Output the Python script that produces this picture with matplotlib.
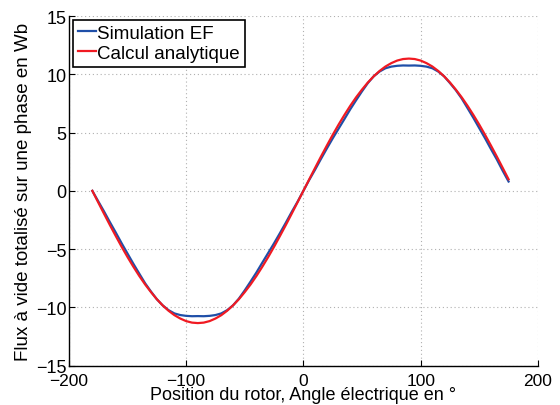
import matplotlib
matplotlib.use("Agg")
import matplotlib.pyplot as plt
import numpy as np

plt.rcParams['font.family'] = ['Liberation Sans', 'DejaVu Sans']

# angle electrique (deg), one sample every 5 deg
angle = np.arange(-180, 176, 5)

# flux a vide, simulation EF (Wb)
flux_ef = [0.0, -0.89, -1.77, -2.69, -3.58, -4.50, -5.38, -6.26, -7.10, -7.93,
           -8.64, -9.30, -9.83, -10.24, -10.52, -10.66, -10.73, -10.76, -10.75,
           -10.76, -10.73, -10.66, -10.52, -10.24, -9.83, -9.25, -8.54, -7.78,
           -7.00, -6.16, -5.33, -4.50, -3.63, -2.74, -1.82, -0.94,
           0.0, 0.94, 1.82, 2.74, 3.63, 4.50, 5.33, 6.16, 7.00, 7.78,
           8.54, 9.25, 9.83, 10.24, 10.52, 10.66, 10.73, 10.76, 10.75,
           10.76, 10.73, 10.66, 10.52, 10.24, 9.83, 9.25, 8.64, 7.93,
           7.10, 6.26, 5.38, 4.50, 3.58, 2.69, 1.72, 0.80]

# flux a vide, calcul analytique (Wb)
flux_an = [0.0, -0.99, -1.97, -2.94, -3.88, -4.80, -5.68, -6.51, -7.30, -8.03,
           -8.69, -9.30, -9.83, -10.29, -10.67, -10.96, -11.18, -11.31, -11.35,
           -11.31, -11.18, -10.96, -10.67, -10.29, -9.83, -9.30, -8.69, -8.03,
           -7.30, -6.51, -5.68, -4.80, -3.88, -2.94, -1.97, -0.99,
           0.0, 0.99, 1.97, 2.94, 3.88, 4.80, 5.68, 6.51, 7.30, 8.03,
           8.69, 9.30, 9.83, 10.29, 10.67, 10.96, 11.18, 11.31, 11.35,
           11.31, 11.18, 10.96, 10.67, 10.29, 9.83, 9.30, 8.69, 8.03,
           7.30, 6.51, 5.68, 4.80, 3.88, 2.94, 1.97, 0.99]

xticks = [-200, -100, 0, 100, 200]
yticks = [-15, -10, -5, 0, 5, 10, 15]

fig = plt.figure(figsize=(5.6, 4.06), dpi=100)
ax = fig.add_axes([0.123, 0.097, 0.8375, 0.861])

ax.plot(angle, flux_ef, color='#1f4fa8', linewidth=1.6, label='Simulation EF')
ax.plot(angle, flux_an, color='#f01a22', linewidth=1.6, label='Calcul analytique')

ax.set_xlim(-200, 200)
ax.set_ylim(-15, 15)
ax.set_xticks(xticks)
ax.set_yticks(yticks)
ax.set_xticklabels([str(t).replace('-', '\u2212') for t in xticks])
ax.set_yticklabels([str(t).replace('-', '\u2212') for t in yticks])
ax.grid(True, linestyle=(0, (1, 2.5)), color='#b0b0b0', linewidth=0.8)

for side in ['top', 'right']:
    ax.spines[side].set_visible(False)
ax.spines['left'].set_linewidth(1.0)
ax.spines['bottom'].set_linewidth(1.0)
ax.tick_params(direction='in', length=4, labelsize=13, pad=1.5)
ax.tick_params(axis='x', labelsize=12.5, pad=5.5)

ax.set_xlabel('Position du rotor, Angle électrique en °', fontsize=13)
ax.xaxis.set_label_coords(0.5, -0.058)
ax.set_ylabel('Flux à vide totalisé sur une phase en Wb', fontsize=13.5, labelpad=3)

leg = ax.legend(loc='upper left', fontsize=13.5, fancybox=False, framealpha=1,
                edgecolor='black', handlelength=0.95, handletextpad=0.1,
                borderpad=0.27, labelspacing=0.15, borderaxespad=0.2)
leg.get_frame().set_linewidth(1.2)

fig.savefig('out.png', dpi=100)
